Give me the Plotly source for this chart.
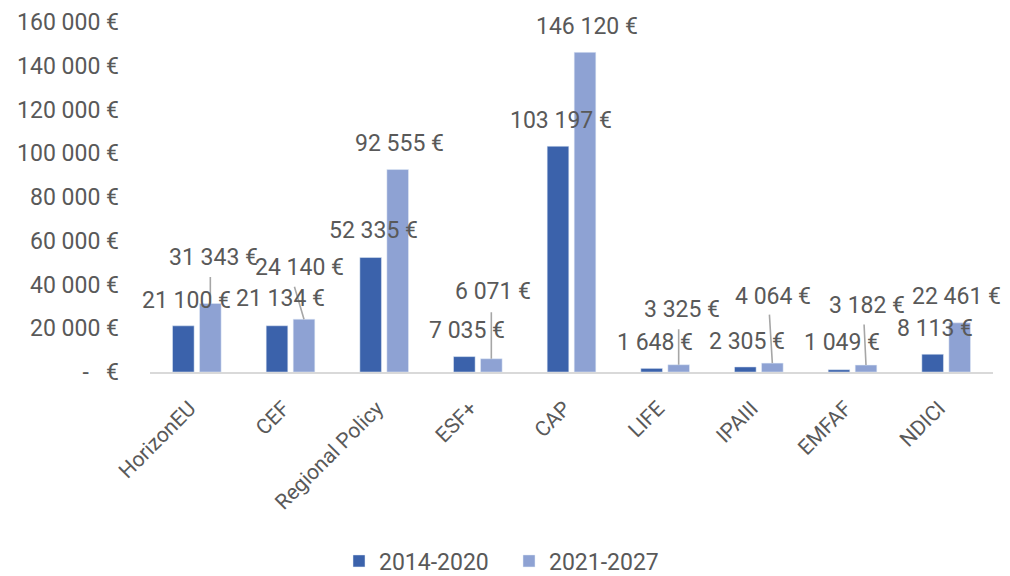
import plotly.graph_objects as go

# ---- data ----
categories = ["HorizonEU", "CEF", "Regional Policy", "ESF+", "CAP", "LIFE", "IPAIII", "EMFAF", "NDICI"]
series_names = ["2014-2020", "2021-2027"]
values_2014_2020 = [21100, 21134, 52335, 7035, 103197, 1648, 2305, 1049, 8113]
values_2021_2027 = [31343, 24140, 92555, 6071, 146120, 3325, 4064, 3182, 22461]
y_tick_values = [0, 20000, 40000, 60000, 80000, 100000, 120000, 140000, 160000]

# ---- styling ----
COLOR_DARK = "#3B62AB"
COLOR_LIGHT = "#8EA2D3"
TEXT_COLOR = "#595959"
FONT = "Roboto"
BAR_SHIFT = 13.5  # px offset of each bar from its category centre

# label offsets (px) relative to the top-centre of each bar: (dx, dy up)
label_off_dark = [(3, 25), (3, 27), (3, 27), (3, 26), (3, 26), (3, 26), (2, 25), (3, 27), (2, 26)]
label_off_light = [(3, 46), (-5, 52), (2, 26), (2, 67), (2, 26), (3, 55), (1, 67), (1, 60), (-3, 26)]
# leader lines for light bars: (tail dx, tail dy up) or None
leader_light = [(0, 28), (-10, 34), None, (0, 48), None, (0, 37), (-3, 50), (-2, 42), None]


def euro(v):
    if v == 0:
        return "-\u00a0\u00a0\u00a0€"
    return f"{v:,}".replace(",", " ") + " €"


fig = go.Figure()
fig.add_trace(go.Bar(x=categories, y=values_2014_2020, name=series_names[0],
                     marker_color=COLOR_DARK))
fig.add_trace(go.Bar(x=categories, y=values_2021_2027, name=series_names[1],
                     marker_color=COLOR_LIGHT))

annotations = []
for i, cat in enumerate(categories):
    ld = leader_light[i]
    if ld is not None:
        annotations.append(dict(
            x=cat, y=values_2021_2027[i], xref="x", yref="y", text="",
            showarrow=True, arrowhead=0, arrowwidth=1.6, arrowcolor="#A6A6A6",
            ax=ld[0], ay=-ld[1], axref="pixel", ayref="pixel",
            xshift=BAR_SHIFT, standoff=0, startstandoff=0))
    for vals, offs, shift in ((values_2014_2020, label_off_dark, -BAR_SHIFT),
                              (values_2021_2027, label_off_light, BAR_SHIFT)):
        dx, dy = offs[i]
        annotations.append(dict(
            x=cat, y=vals[i], xref="x", yref="y", text=euro(vals[i]),
            showarrow=False, xanchor="center", yanchor="middle",
            xshift=shift + dx, yshift=dy,
            font=dict(family=FONT, size=23, color=TEXT_COLOR)))

# the page body adds an 8 px margin, so the figure is 8 px smaller each way
fig.update_layout(
    width=1002, height=568,
    margin=dict(l=142, r=17, t=14, b=204, autoexpand=False),
    paper_bgcolor="white", plot_bgcolor="white",
    barmode="group", bargap=0.423, bargroupgap=0.2,
    font=dict(family=FONT, size=23, color=TEXT_COLOR),
    showlegend=True,
    legend=dict(orientation="h", x=0.5, xref="container", xanchor="center",
                y=-0.54, yanchor="middle", entrywidth=125,
                font=dict(family=FONT, size=23, color=TEXT_COLOR),
                itemwidth=30, traceorder="normal"),
    annotations=annotations,
)
fig.update_xaxes(showgrid=False, showline=True, linecolor="#D9D9D9", linewidth=1.5,
                 range=[-0.5, len(categories) - 0.5],
                 tickangle=-45, tickfont=dict(family=FONT, size=21, color=TEXT_COLOR),
                 ticks="", zeroline=False, automargin=False,
                 ticklabelstandoff=14, ticklabelshift=-7)
fig.update_yaxes(range=[0, 160000], showgrid=False, showline=False, zeroline=False,
                 tickvals=y_tick_values, ticktext=[euro(v) for v in y_tick_values],
                 tickfont=dict(family=FONT, size=23, color=TEXT_COLOR),
                 ticklabelstandoff=30, ticks="", automargin=False,
                 ticklabeloverflow="allow")

fig.write_html("out.html")
